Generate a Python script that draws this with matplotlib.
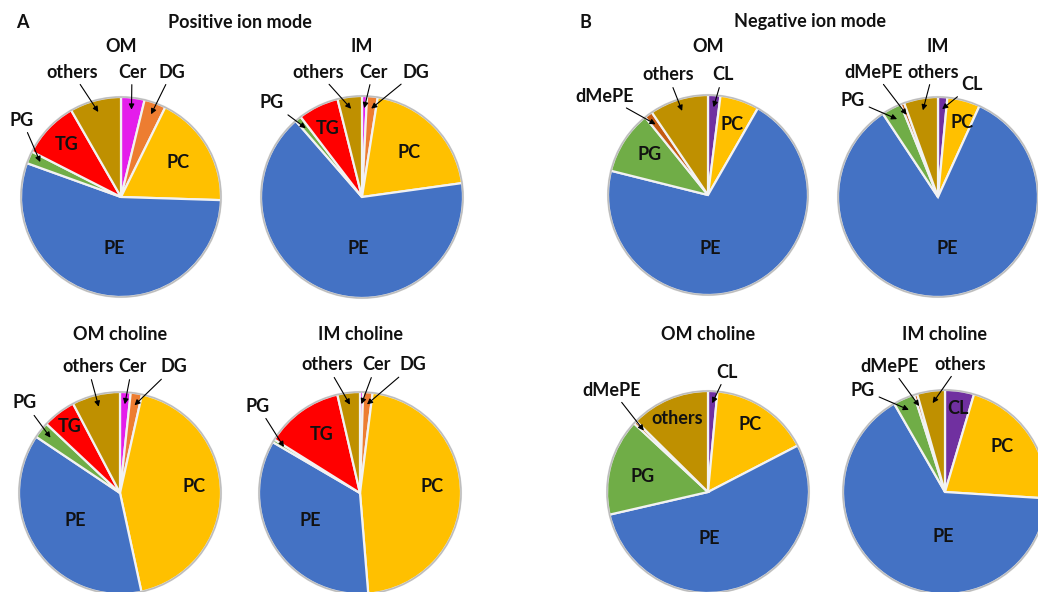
import numpy as np
import matplotlib.pyplot as plt

plt.rcParams['font.family'] = ['Lato', 'DejaVu Sans']
plt.rcParams['font.weight'] = 'bold'

W, H = 1038, 592

# lipid classes, listed clockwise from 12 o'clock
pos_classes = ['Cer', 'DG', 'PC', 'PE', 'PG', 'TG', 'others']
pos_colors = ['#E41DEB', '#ED7D31', '#FFC000', '#4472C4', '#70AD47', '#FF0000', '#BF9000']
neg_classes = ['CL', 'PC', 'PE', 'PG', 'dMePE', 'others']
neg_colors = ['#7030A0', '#FFC000', '#4472C4', '#70AD47', '#C55A11', '#BF9000']

# share of total signal (%)
pos_om = [3.8, 3.5, 18.2, 55.0, 2.0, 9.2, 8.3]
pos_im = [0.8, 1.7, 20.3, 65.8, 1.0, 6.5, 3.9]
pos_om_choline = [1.7, 1.8, 43.1, 37.8, 2.6, 5.3, 7.7]
pos_im_choline = [0.5, 1.5, 46.7, 34.7, 0.5, 12.5, 3.6]
neg_om = [2.0, 6.3, 70.6, 10.3, 1.3, 9.5]
neg_im = [1.5, 5.3, 83.9, 3.2, 0.6, 5.5]
neg_om_choline = [1.5, 15.9, 54.0, 15.5, 0.5, 12.6]
neg_im_choline = [4.6, 21.4, 65.7, 3.4, 0.5, 4.4]

fig = plt.figure(figsize=(W / 100, H / 100), dpi=100)
ax = fig.add_axes([0, 0, 1, 1])

TXT = '#111111'
FS = 13


def draw_pie(values, classes, colors, cx, cy, r, title, title_y, labels):
    """cx, cy in pixels from top-left; labels: (class, x, y, inside?)"""
    cy_d = H - cy
    wedges, _ = ax.pie(values, colors=colors, center=(cx, cy_d), radius=r,
                       startangle=90, counterclock=False,
                       wedgeprops=dict(edgecolor='#F2F2F2', linewidth=1.6))
    for w in wedges:
        w.set_clip_on(True)
    # soft rim
    ax.add_patch(plt.Circle((cx, cy_d), r, fill=False, ec='#9A9A9A',
                            lw=1.2, alpha=0.6))
    ax.text(cx, H - title_y, title, ha='center', va='center',
            fontsize=FS, color=TXT)
    for name, x, y, inside in labels:
        w = wedges[classes.index(name)]
        if inside:
            ax.text(x, H - y, name, ha='center', va='center',
                    fontsize=FS, color=TXT)
            continue
        mid = np.deg2rad((w.theta1 + w.theta2) / 2)
        tip = (cx + 0.88 * r * np.cos(mid), cy_d + 0.88 * r * np.sin(mid))
        ax.annotate(name, xy=tip, xytext=(x, H - y), ha='center', va='center',
                    fontsize=FS, color=TXT,
                    arrowprops=dict(arrowstyle='-|>', color='black', lw=0.8,
                                    mutation_scale=8, shrinkA=1, shrinkB=0))


# positive ion mode
draw_pie(pos_om, pos_classes, pos_colors, 121, 197, 100, 'OM', 46,
         [('others', 72, 72, False), ('Cer', 132, 72, False),
          ('DG', 172, 72, False), ('PG', 22, 120, False),
          ('TG', 67, 145, True), ('PC', 178, 162, True), ('PE', 114, 248, True)])
draw_pie(pos_im, pos_classes, pos_colors, 362, 197, 101, 'IM', 46,
         [('others', 318, 72, False), ('Cer', 373, 72, False),
          ('DG', 416, 72, False), ('PG', 272, 103, False),
          ('TG', 328, 128, True), ('PC', 409, 152, True), ('PE', 358, 248, True)])
draw_pie(pos_om_choline, pos_classes, pos_colors, 120, 493, 101, 'OM choline', 334,
         [('others', 88, 367, False), ('Cer', 132, 367, False),
          ('DG', 174, 367, False), ('PG', 25, 403, False),
          ('TG', 70, 427, True), ('PC', 194, 487, True), ('PE', 75, 520, True)])
draw_pie(pos_im_choline, pos_classes, pos_colors, 360, 493, 101, 'IM choline', 334,
         [('others', 327, 365, False), ('Cer', 376, 365, False),
          ('DG', 413, 365, False), ('PG', 258, 406, False),
          ('TG', 322, 435, True), ('PC', 432, 487, True), ('PE', 310, 520, True)])

# negative ion mode
draw_pie(neg_om, neg_classes, neg_colors, 708, 195, 100, 'OM', 46,
         [('others', 668, 75, False), ('CL', 723, 75, False),
          ('dMePE', 605, 96, False),
          ('PC', 732, 125, True), ('PG', 650, 155, True), ('PE', 710, 248, True)])
draw_pie(neg_im, neg_classes, neg_colors, 938, 197, 100, 'IM', 46,
         [('dMePE', 874, 72, False), ('others', 933, 72, False),
          ('CL', 972, 85, False), ('PG', 853, 100, False),
          ('PC', 962, 123, True), ('PE', 947, 248, True)])
draw_pie(neg_om_choline, neg_classes, neg_colors, 708, 492, 101, 'OM choline', 335,
         [('CL', 727, 372, False), ('dMePE', 612, 390, False),
          ('others', 677, 418, True), ('PC', 750, 425, True),
          ('PG', 643, 476, True), ('PE', 709, 538, True)])
draw_pie(neg_im_choline, neg_classes, neg_colors, 945, 492, 102, 'IM choline', 335,
         [('dMePE', 890, 366, False), ('others', 960, 364, False),
          ('PG', 863, 390, False),
          ('CL', 958, 408, True), ('PC', 1002, 447, True), ('PE', 943, 536, True)])

# panel headers
ax.text(22, H - 22, 'A', ha='center', va='center', fontsize=FS, color=TXT)
ax.text(240, H - 22, 'Positive ion mode', ha='center', va='center', fontsize=FS, color=TXT)
ax.text(585, H - 22, 'B', ha='center', va='center', fontsize=FS, color=TXT)
ax.text(810, H - 22, 'Negative ion mode', ha='center', va='center', fontsize=FS, color=TXT)

ax.set_xlim(0, W)
ax.set_ylim(0, H)
ax.set_aspect('equal')
ax.axis('off')

fig.savefig('out.png', dpi=100, facecolor='white')
